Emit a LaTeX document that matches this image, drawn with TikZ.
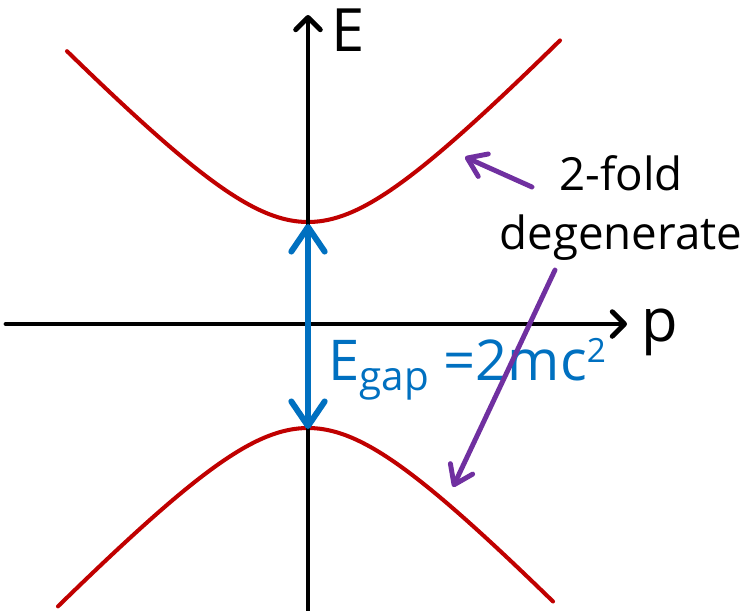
\documentclass[tikz,border=0pt]{standalone}
\usepackage{fontspec}
\setmainfont{Open Sans}
\usetikzlibrary{arrows.meta, positioning, calc}
\definecolor{bandred}{RGB}{192,0,0}
\definecolor{gapblue}{RGB}{0,112,192}
\definecolor{notepurple}{RGB}{112,48,160}

\begin{document}
\begin{tikzpicture}[x=0.02cm, y=-0.02cm, line cap=round, line join=round,
    axis/.style={line width=2.8pt, -{Straight Barb[round, length=7pt, width=14pt]}},
    band/.style={bandred, line width=2.3pt},
    gaparrow/.style={gapblue, line width=3.4pt,
      {Straight Barb[round, length=14pt, width=19pt]}-{Straight Barb[round, length=14pt, width=19pt]}},
    pointer/.style={notepurple, line width=2.8pt, -{Straight Barb[round, length=10pt, width=14pt]}},
    big/.style={inner sep=0pt, font=\fontsize{34}{40}\selectfont}]
  \useasboundingbox (0,0) rectangle (752,610);

  % Bands (upper and lower), E = sqrt(gap^2 + p^2) in hundreds of px
  \draw[band] plot[domain=67:560, samples=120]
    (\x, {324 - 100*sqrt(1.02^2 + (1.05*(\x-308)/100)^2)});
  \draw[band] plot[domain=58:553, samples=120]
    (\x, {324 + 100*sqrt(1.04^2 + (1.05*(\x-308)/100)^2)});

  % Axes
  \coordinate (xstart) at (6,324);
  \coordinate (xend) at (627,324);
  \coordinate (ystart) at (308,612);
  \coordinate (yend) at (308,15);
  \draw[axis] (xstart) -- (xend);
  \draw[axis] (ystart) -- (yend);
  \node[big, anchor=center] (elabel) at (348,30) {E};
  \node[big, anchor=center] (plabel) at (660,332) {p};

  % Gap arrow
  \coordinate (bandtop) at (308,224);
  \coordinate (bandbot) at (308,429);
  \draw[gaparrow] (bandtop) -- (bandbot);
  \node[inner sep=0pt, font=\fontsize{32}{38}\selectfont, text=gapblue, anchor=base west] (gaplabel) at (328,380)
    {E\raisebox{-6pt}{\fontsize{23}{23}\selectfont gap} =2mc\raisebox{10pt}{\fontsize{19}{19}\selectfont 2}};

  % Degeneracy note
  \node[inner sep=0pt, align=center, font=\fontsize{26}{34}\selectfont] (degen) at (621,208)
    {2-fold\\degenerate};
  \coordinate (tailup) at (532,187);
  \coordinate (headup) at (465,157);
  \coordinate (taildown) at (555,270);
  \coordinate (headdown) at (453,487);
  \draw[pointer] (tailup) -- (headup);
  \draw[pointer] (taildown) -- (headdown);

\end{tikzpicture}
\end{document}
